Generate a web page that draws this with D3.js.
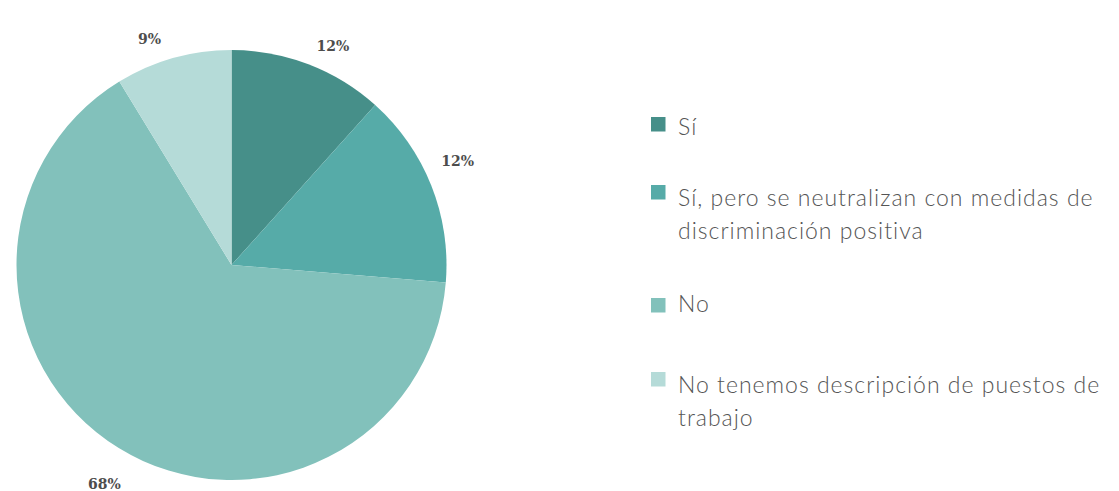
<!DOCTYPE html>
<html>
<head>
<meta charset="utf-8">
<script src="https://cdn.jsdelivr.net/npm/d3@7"></script>
<style>
  html, body { margin: 0; padding: 0; background: #ffffff; }
  svg { display: block; }
</style>
</head>
<body>
<svg id="chart" width="1119" height="491"></svg>
<script>
// ---- data ----
const categories = [
  "Sí",
  "Sí, pero se neutralizan con medidas de discriminación positiva",
  "No",
  "No tenemos descripción de puestos de trabajo"
];
const legendLines = [
  ["Sí"],
  ["Sí, pero se neutralizan con medidas de", "discriminación positiva"],
  ["No"],
  ["No tenemos descripción de puestos de", "trabajo"]
];
const sliceShares = [11.6, 14.6, 64.7, 8.7];   // shares
const printedPercent = [12, 12, 68, 9];         // printed labels
const colors = ["#468f89", "#56aba8", "#82c1bb", "#b5dbd8"];

// ---- layout ----
const svg = d3.select("#chart");
const cx = 231.5, cy = 265, r = 215;

const pie = d3.pie().sort(null).value(d => d.v).startAngle(0).endAngle(2 * Math.PI);
const arcs = pie(sliceShares.map((v, i) => ({ v, i })));
const labelArcs = pie(printedPercent.map((v, i) => ({ v, i })));
const arc = d3.arc().innerRadius(0).outerRadius(r);

const g = svg.append("g").attr("transform", `translate(${cx},${cy})`);
g.selectAll("path.slice")
  .data(arcs)
  .join("path")
  .attr("class", "slice")
  .attr("d", arc)
  .attr("fill", d => colors[d.data.i]);

// outside-end labels: nearest corner of the text box near radius rl
const rl = 233;
g.selectAll("text.lbl")
  .data(labelArcs)
  .join("text")
  .attr("class", "lbl")
  .each(function(d) {
    const a = (d.startAngle + d.endAngle) / 2;
    const x = rl * Math.sin(a), y = -rl * Math.cos(a);
    const right = Math.sin(a) >= 0, up = Math.cos(a) >= 0;
    d3.select(this)
      .attr("x", right ? x : x - 6)
      .attr("y", y)
      .attr("dy", up ? "0.2em" : "1.15em")
      .attr("text-anchor", right ? "start" : "end");
  })
  .style("font-family", "'DejaVu Serif', serif")
  .style("font-weight", "bold")
  .style("font-size", "14px")
  .style("fill", "#4d4d4d")
  .text(d => printedPercent[d.data.i] + "%");

// ---- legend ----
const legendX = 651, textX = 678;
const baselines = [135, 206, 312, 393];
const squareTops = [117, 185, 298, 372];
const lineH = 33;
const lg = svg.append("g");
legendLines.forEach((lines, i) => {
  lg.append("rect")
    .attr("x", legendX)
    .attr("y", squareTops[i])
    .attr("width", 14.5)
    .attr("height", 14.5)
    .attr("fill", colors[i]);
  const t = lg.append("text")
    .attr("x", textX)
    .attr("y", baselines[i])
    .style("font-family", "Lato, 'Open Sans', sans-serif")
    .style("font-weight", "300")
    .style("font-size", "23px")
    .style("letter-spacing", "1px")
    .style("fill", "#555");
  lines.forEach((ln, j) => {
    t.append("tspan").attr("x", textX).attr("y", baselines[i] + j * lineH).text(ln);
  });
});
</script>
</body>
</html>
